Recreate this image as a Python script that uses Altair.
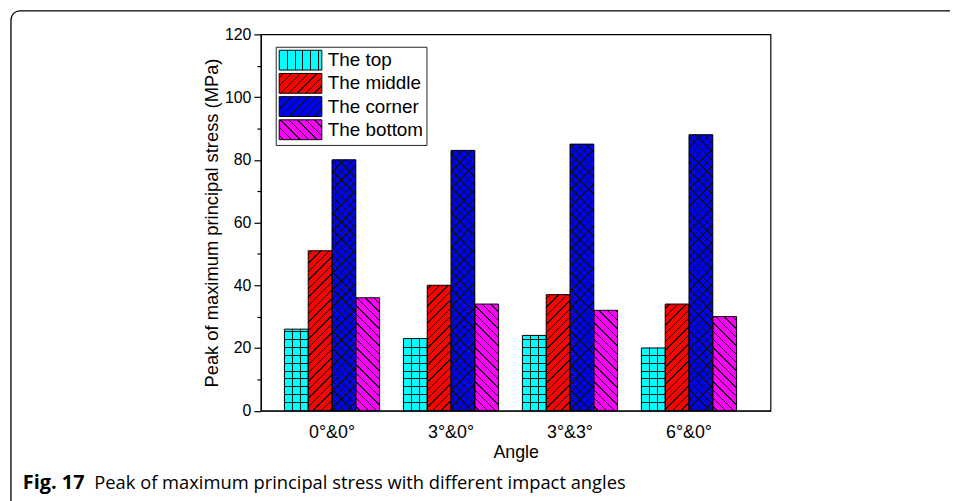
import math
import altair as alt

# ---------------- data ----------------
angles = ["0°&0°", "3°&0°", "3°&3°", "6°&0°"]
series = ["The top", "The middle", "The corner", "The bottom"]
top_vals = [26, 23, 24, 20]
middle_vals = [51, 40, 37, 34]
corner_vals = [80, 83, 85, 88]
bottom_vals = [36, 34, 32, 30]
colors = ["#00FFFF", "#FF0000", "#0000FF", "#FF00FF"]
hatch_kind = ["grid", "slash", "cross", "backslash"]

caption_bold = "Fig. 17"
caption_text = "Peak of maximum principal stress with different impact angles"

# ---------------- layout / style ----------------
W, H = 514, 379.5
YMAX = 120
P_IN, P_OUT, ALIGN = 0.2, 0.2417, 0.41
STEP = W / (len(angles) - P_IN + 2 * P_OUT)
BAR_W = STEP * (1 - P_IN) / len(series)
INK = "#101010"
PITCH = 8.5
LW = 1.0
SW_W, SW_H = 43, 20  # legend swatch


def _stops(positions, L, lw, bg="transparent"):
    st = [{"offset": 0, "color": bg}]
    for c in positions:
        a = max(0.0, (c - lw / 2) / L)
        b = min(1.0, (c + lw / 2) / L)
        st += [
            {"offset": round(a, 5), "color": bg},
            {"offset": round(a, 5), "color": INK},
            {"offset": round(b, 5), "color": INK},
            {"offset": round(b, 5), "color": bg},
        ]
    st.append({"offset": 1, "color": bg})
    return st


def diag(w, h, forward, bg="transparent"):
    L = w + h
    k = L / (w * w + h * h)
    if forward:
        g = {"x1": 0, "y1": 0, "x2": k * w, "y2": k * h}
    else:
        g = {"x1": 0, "y1": 1, "x2": k * w, "y2": 1 - k * h}
    pos = []
    c = PITCH / 2
    while c < L:
        pos.append(c)
        c += PITCH
    return {"gradient": "linear", **g, "stops": _stops(pos, L, LW * math.sqrt(2), bg)}


def vlines(w, bg="transparent"):
    pos = []
    c = 8.0
    while c < w - 1:
        pos.append(c)
        c += 8.0
    return {"gradient": "linear", "x1": 0, "y1": 0, "x2": 1, "y2": 0,
            "stops": _stops(pos, w, LW, bg)}


def hlines(h, bg="transparent"):
    pos = []
    c = h - 8.0
    while c > 1:
        pos.append(c)
        c -= 8.0
    return {"gradient": "linear", "x1": 0, "y1": 0, "x2": 0, "y2": 1,
            "stops": _stops(sorted(pos), h, LW, bg)}


def to_expr(g):
    stops = ", ".join("{offset: %s, color: '%s'}" % (s["offset"], s["color"]) for s in g["stops"])
    return "{gradient: 'linear', x1: %s, y1: %s, x2: %s, y2: %s, stops: [%s]}" % (
        round(g["x1"], 5), round(g["y1"], 5), round(g["x2"], 5), round(g["y2"], 5), stops)


rows = []
all_vals = [top_vals, middle_vals, corner_vals, bottom_vals]
for j, s in enumerate(series):
    for i, a in enumerate(angles):
        v = all_vals[j][i]
        h = v / YMAX * H
        kind = hatch_kind[j]
        if kind == "grid":
            ha, hb = vlines(BAR_W), hlines(h)
        elif kind == "slash":
            ha, hb = diag(BAR_W, h, True), "transparent"
        elif kind == "cross":
            ha, hb = diag(BAR_W, h, True), diag(BAR_W, h, False)
        else:
            ha, hb = diag(BAR_W, h, False), "transparent"
        rows.append({"angle": a, "series": s, "value": v, "hA": ha, "hB": hb})

# legend swatch fills (one stripe direction each)
legend_fills = []
for j, kind in enumerate(hatch_kind):
    if kind == "grid":
        g = vlines(SW_W, colors[j])
    elif kind == "backslash":
        g = diag(SW_W, SW_H, False, colors[j])
    else:
        g = diag(SW_W, SW_H, True, colors[j])
    legend_fills.append({"expr": to_expr(g)})

data = alt.Data(values=rows)

FONT = "Liberation Sans"

x_enc = alt.X(
    "angle:N", sort=angles,
    scale=alt.Scale(paddingInner=P_IN, paddingOuter=P_OUT, align=ALIGN),
    axis=alt.Axis(title="Angle", ticks=False, labelAngle=0, labelPadding=13,
                  labelFontSize=18, titleFontSize=18, titlePadding=2,
                  titleFontWeight="normal"),
)
xo_enc = alt.XOffset("series:N", sort=series,
                     scale=alt.Scale(paddingInner=0, paddingOuter=0))
y_enc = alt.Y(
    "value:Q", stack=None,
    scale=alt.Scale(domain=[0, YMAX], nice=False, zero=True),
    axis=alt.Axis(
        title="Peak of maximum principal stress (MPa)",
        values=list(range(0, YMAX + 1, 10)),
        labelExpr="datum.value % 20 == 0 ? datum.label : ''",
        tickSize={"condition": {"test": "datum.value % 20 != 0", "value": 4}, "value": 7},
        labelOverlap=False, labelFontSize=16, labelPadding=3,
        titleFontSize=18.5, titlePadding=3, titleFontWeight="normal",
    ),
)

legend_path = "M-1,-1L3.3,-1L3.3,1L-1,1Z"

carrier = alt.Chart(data).mark_bar(opacity=0).encode(
    x=x_enc, xOffset=xo_enc, y=y_enc,
    color=alt.Color(
        "series:N", sort=series,
        scale=alt.Scale(domain=series, range=legend_fills),
        legend=alt.Legend(
            title=None, orient="none", legendX=15, legendY=12.5,
            symbolType=legend_path, symbolSize=400,
            symbolStrokeColor="black", symbolStrokeWidth=1, symbolOpacity=1,
            labelFont=FONT, labelFontSize=19, labelColor="black",
            labelOffset=28.5, rowPadding=-1.6, padding=3,
            strokeColor="#222222", fillColor="white",
            labelExpr="datum.label + '\u00a0\u00a0'",
        ),
    ),
)

base = alt.Chart(data).mark_bar(strokeWidth=0).encode(
    x=x_enc, xOffset=xo_enc, y=y_enc,
    fill=alt.Fill("series:N", sort=series,
                  scale=alt.Scale(domain=series, range=colors), legend=None),
)

over_a = alt.Chart(data).mark_bar(strokeWidth=0).encode(
    x=x_enc, xOffset=xo_enc, y=y_enc,
    fill=alt.Fill("hA:N", scale=None, legend=None),
)
over_b = alt.Chart(data).mark_bar(stroke="black", strokeWidth=1).encode(
    x=x_enc, xOffset=xo_enc, y=y_enc,
    fill=alt.Fill("hB:N", scale=None, legend=None),
)

frame = alt.Chart(alt.Data(values=[{"f": 1}])).mark_rect(
    fill="transparent", stroke="black", strokeWidth=1.3, cornerRadius=9
).encode(
    x=alt.value(-252), x2=alt.value(W + 400),
    y=alt.value(-23.8), y2=alt.value(H + 300),
)

cap1 = alt.Chart(alt.Data(values=[{"t": caption_bold}])).mark_text(
    align="left", baseline="alphabetic", font="Open Sans", fontSize=20,
    fontWeight="bold", color="black"
).encode(text="t:N", x=alt.value(-240), y=alt.value(458.5))

cap2 = alt.Chart(alt.Data(values=[{"t": caption_text}])).mark_text(
    align="left", baseline="alphabetic", font="Open Sans", fontSize=18.5,
    color="black"
).encode(text="t:N", x=alt.value(-168), y=alt.value(458.5))

chart = alt.layer(frame, carrier, base, over_a, over_b, cap1, cap2).properties(
    width=W, height=H, autosize="none",
    padding={"left": 255, "top": 24.5, "right": 181, "bottom": 89},
    background="white",
).configure_view(
    stroke="black", strokeWidth=1.2
).configure_axis(
    domainColor="black", domainWidth=1.2, tickColor="black", tickWidth=1.2,
    labelColor="black", titleColor="black", labelFont=FONT, titleFont=FONT,
    grid=False,
)

chart.save("out.html", embed_options={"renderer": "svg", "actions": False})
